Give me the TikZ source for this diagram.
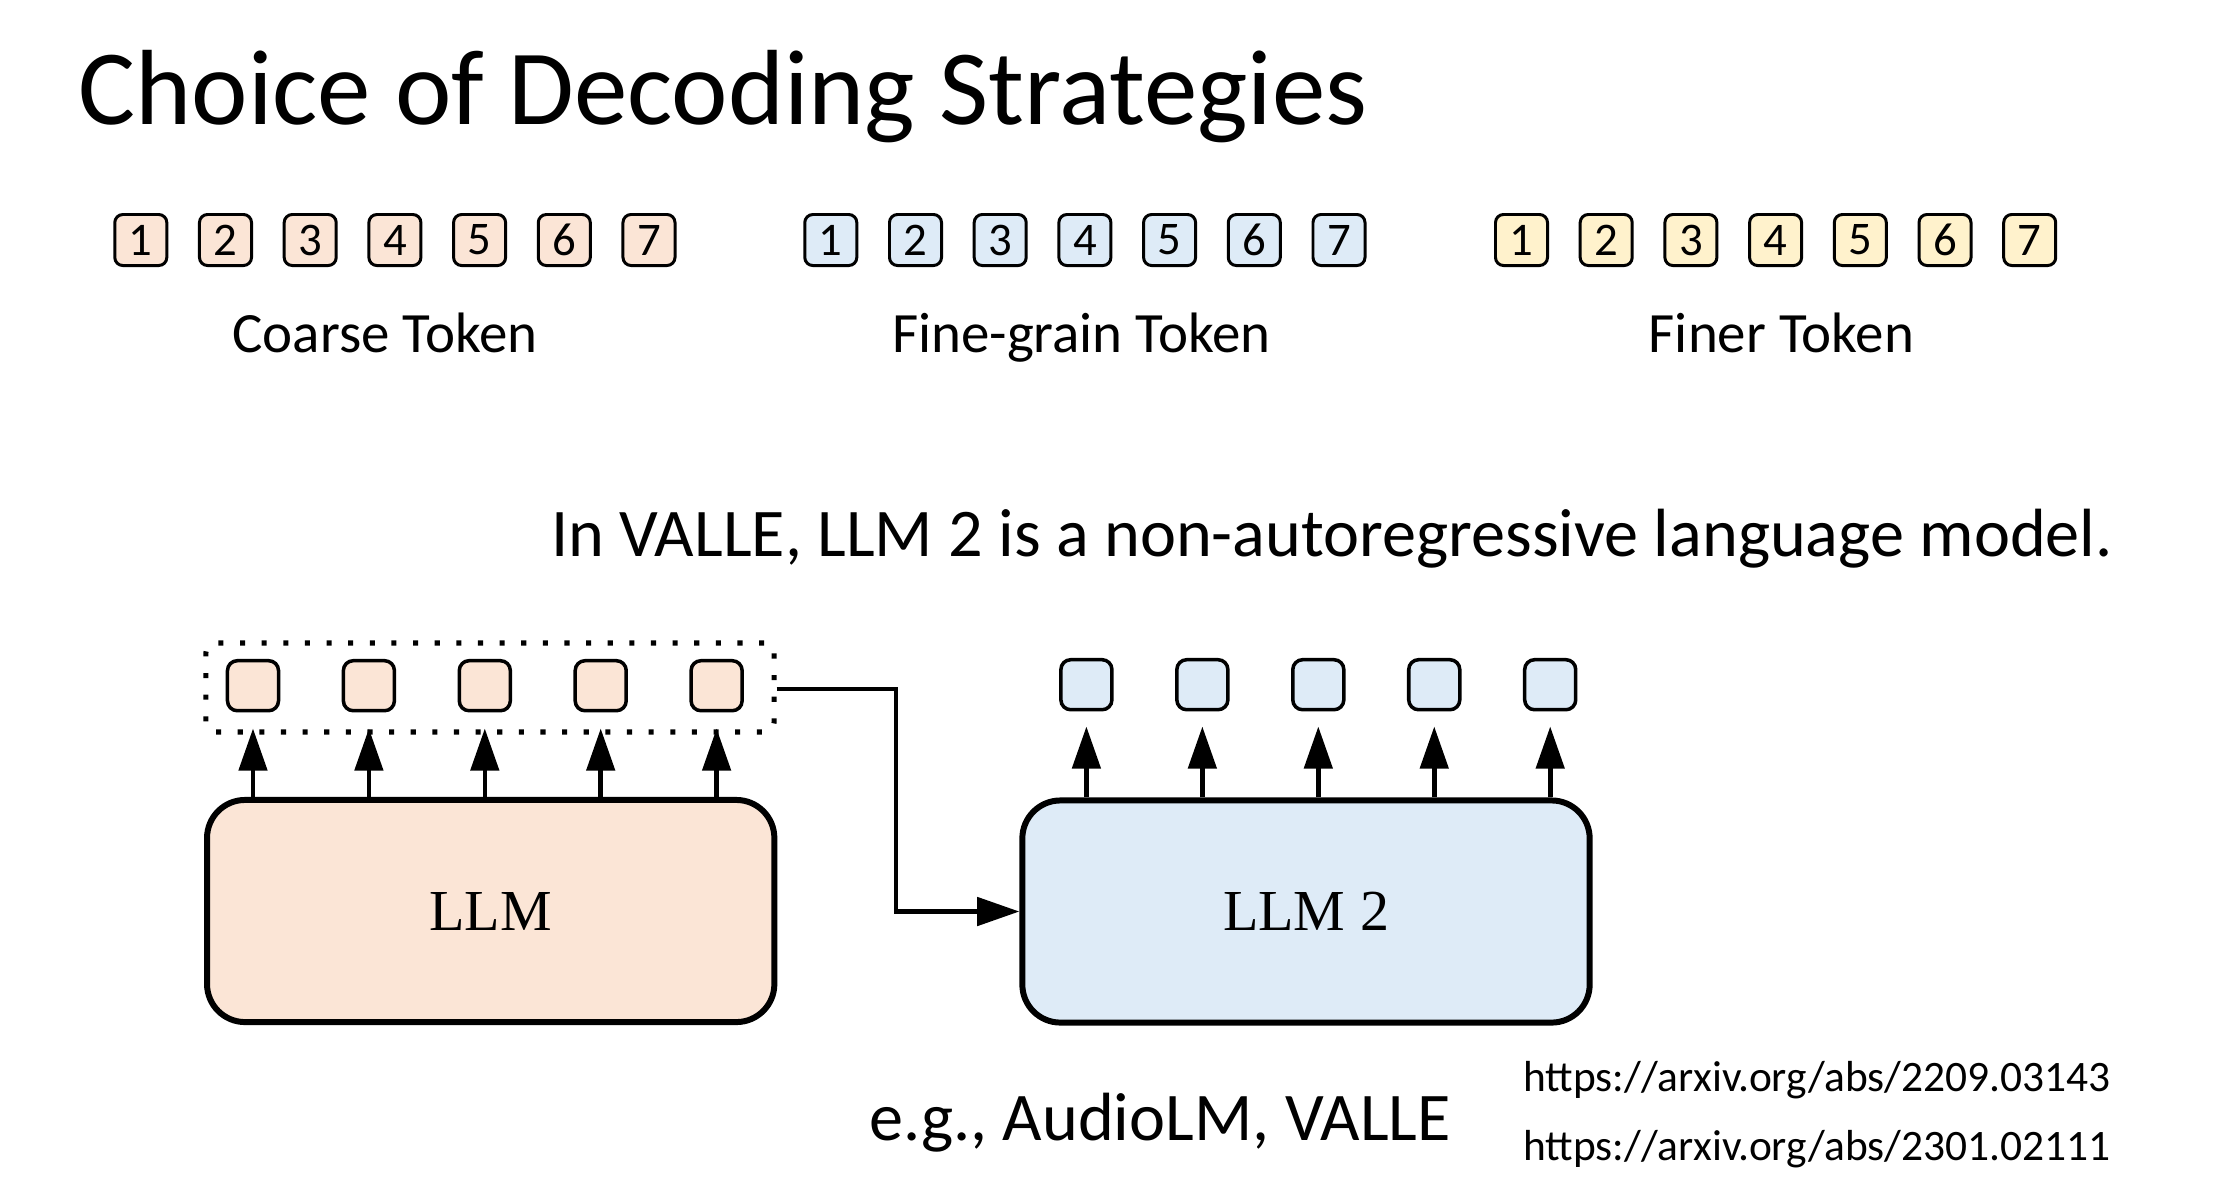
\documentclass[tikz,border=0pt]{standalone}
\usepackage{fontspec}
\setmainfont{Carlito}
\newfontfamily\modelfont{Liberation Serif}
\usetikzlibrary{positioning,arrows.meta}
\definecolor{coarsecol}{HTML}{FBE5D6}
\definecolor{finecol}{HTML}{DEEBF7}
\definecolor{finercol}{HTML}{FFF2CC}
\tikzset{
>={Triangle[length=12pt,width=8pt]},
  numtok/.style={
    rectangle,
    rounded corners=2.3pt,
    draw=black, line width=0.85pt,
    minimum width=0.52cm,
    minimum height=0.51cm,
    inner sep=0pt,
    font=\fontsize{13.3}{14}\selectfont},
  outtok/.style={
    rectangle,
    rounded corners=2.8pt,
    draw=black, line width=1pt,
    minimum width=0.51cm,
    minimum height=0.50cm,
    inner sep=0pt},
  model/.style={
    rectangle,
    rounded corners=0.38cm,
    draw=black, line width=1.7pt,
    minimum width=5.67cm,
    minimum height=2.22cm,
    font=\modelfont\fontsize{16.5}{18}\selectfont},
  group/.style={
    rectangle,
    rounded corners=0.1cm,
    draw=black, line width=1.45pt,
    dash pattern=on 1.45pt off 4.7pt,
    minimum width=5.68cm,
    minimum height=0.89cm},
  line/.style={draw, line width=1.3pt, ->},
  caption/.style={anchor=base, font=\fontsize{16.2}{19}\selectfont},
  remark/.style={anchor=base, font=\fontsize{19.4}{23}\selectfont},
  link/.style={anchor=base west, font=\fontsize{12.35}{15}\selectfont},
}

\begin{document}
\begin{tikzpicture}[x=0.01cm, y=-0.01cm]
  \useasboundingbox (0,0) rectangle (2218,1202);
  \node[anchor=base west, inner sep=0pt, font=\fontsize{30.4}{36}\selectfont]
    (title) at (78,124.5) {Choice of Decoding Strategies};

  % token rows
  \foreach \i in {1,...,7} {
    \node[numtok, fill=coarsecol] (c\i) at ({140.8+(\i-1)*84.7},240) {\i};
    \node[numtok, fill=finecol] (m\i) at ({830.8+(\i-1)*84.7},240) {\i};
    \node[numtok, fill=finercol] (r\i) at ({1521.5+(\i-1)*84.7},240) {\i};
  }
  \node[caption] (coarselbl) at (385,352) {Coarse Token};
  \node[caption] (finelbl) at (1081.5,352) {Fine-grain Token};
  \node[caption] (finerlbl) at (1781.5,352) {Finer Token};

  \node[remark] (note) at (1332,556)
    {In VALLE, LLM 2 is a non-autoregressive language model.};

  % the two models
  \node[model, fill=coarsecol] (llm) at (490.7,911) {LLM};
  \node[model, fill=finecol] (llm2) at (1306,911.5) {LLM 2};
  \node[group] (grp) at (490,687.5) {};

  \foreach \i in {1,...,5} {
    \node[outtok, fill=coarsecol] (k\i) at ({253+(\i-1)*115.9},685.7) {};
    \node[outtok, fill=finecol] (f\i) at ({1086.4+(\i-1)*115.95},684.7) {};
    \draw[line, shorten >=0.16cm] (k\i |- llm.north) -- (k\i.south);
    \draw[line, shorten >=0.15cm] (f\i |- llm2.north) -- (f\i.south);
  }

  \coordinate (bend) at (896,689);
  \draw[line] (grp.east |- bend) -- (bend) |- (llm2.west);

  \node[remark] (eg) at (1160,1140) {e.g., AudioLM, VALLE};
  \node[link] (url1) at (1511,1091) {https://arxiv.org/abs/2209.03143};
  \node[link] (url2) at (1511,1160) {https://arxiv.org/abs/2301.02111};
\end{tikzpicture}
\end{document}
